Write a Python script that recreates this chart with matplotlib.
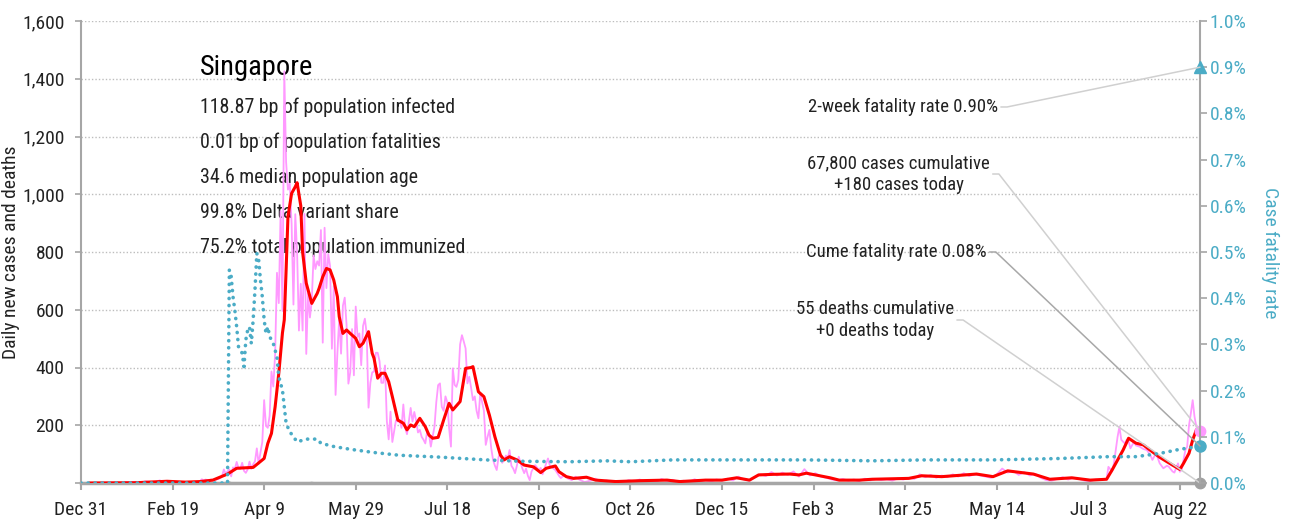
import matplotlib
matplotlib.use('Agg')
import matplotlib.pyplot as plt

plt.rcParams['font.family'] = ['Roboto Condensed', 'Archivo Narrow', 'DejaVu Sans']

PINK = '#ff99ff'
RED = '#ff0000'
TEAL = '#4bacc6'
GREY = '#a6a6a6'
INK = '#222222'

# x axis counts days from Dec 31, 2019
tick_days = [0, 50, 100, 150, 200, 250, 300, 350, 400, 450, 500, 550, 600]
tick_labels = ['Dec 31', 'Feb 19', 'Apr 9', 'May 29', 'Jul 18', 'Sep 6', 'Oct 26',
               'Dec 15', 'Feb 3', 'Mar 25', 'May 14', 'Jul 3', 'Aug 22']
last_day = 611

# daily new cases
case_days = ([1, 10, 20, 23, 24, 28, 30, 33, 35, 38, 40, 43, 45, 47, 49, 52, 55, 58, 60]
             + list(range(61, 246))
             + [246, 248, 250, 251, 252, 254, 255, 256, 258, 259, 261, 262, 264, 266, 268,
                270, 272, 275]
             + list(range(278, 561, 3))
             + [561, 563, 564, 566, 567, 568, 569, 570, 571, 572, 573, 575, 576, 578, 580,
                582, 584, 585, 587, 588, 589, 591, 593, 594, 596, 597, 599, 600, 601, 602,
                603, 604, 605, 606, 607, 608, 609, 611])
case_vals = ([0, 0, 1, 0, 3, 2, 4, 1, 6, 3, 2, 9, 4, 3, 1, 2, 3, 1, 2]
             # Mar 2020
             + [2, 2, 2, 2, 7, 13, 8, 12, 10, 6, 12, 9, 13, 12, 14, 17, 23, 47, 32, 40,
                47, 23, 54, 49, 73, 52, 49, 70, 42, 35, 47]
             # Apr 2020
             + [74, 49, 65, 75, 120, 66, 106, 142, 287, 198, 191, 233, 386, 334, 447,
                728, 623, 942, 596, 1426, 1111, 1016, 1037, 897, 618, 931, 799, 528, 690, 528]
             # May 2020
             + [932, 447, 657, 573, 632, 788, 741, 768, 753, 876, 486, 884, 675, 793, 752,
                465, 682, 305, 451, 570, 448, 614, 642, 548, 344, 383, 533, 373, 611, 506, 518]
             # Jun 2020
             + [408, 544, 569, 517, 261, 347, 383, 386, 451, 451, 422, 347, 347, 407, 214,
                151, 247, 142, 181, 218, 213, 218, 191, 272, 191, 169, 213, 260, 213, 246]
             # Jul - Aug 2020
             + [215, 175, 184, 160, 150, 137, 178, 170, 126, 160, 195, 280, 339, 345, 264,
                250, 300, 280, 190, 126, 397, 340, 333, 357, 480, 512, 490, 466, 345, 368,
                330, 287, 300, 250, 224, 310, 280, 250, 132, 160, 184, 120, 80, 60, 45,
                90, 103, 70, 80, 95, 85, 114, 60, 50, 34, 60, 91, 70, 50, 34, 50, 25, 10]
             + [40, 62, 45, 52, 30, 68, 85, 60, 50, 45, 25, 17, 28, 15, 10, 22, 12, 3]
             # Sep 2020 - Jul 2021
             + [8, 15, 4, 9, 3, 7, 2, 10, 5, 12, 6, 9, 3, 14, 7, 11, 4, 8, 3, 13, 6, 10,
                5, 12, 8, 15, 9, 22, 12, 8, 20, 30, 24, 38, 26, 36, 28, 40, 22, 48, 26, 34,
                22, 18, 12, 9, 14, 8, 12, 6, 15, 9, 14, 10, 13, 8, 16, 12, 18, 14, 30, 20,
                28, 18, 26, 20, 30, 22, 34, 24, 30, 26, 22, 18, 30, 50, 36, 42, 28, 38, 26,
                32, 18, 10, 8, 14, 20, 12, 18, 14, 8, 6, 12, 10, 14]
             # Jul - Sep 2021
             + [56, 40, 68, 160, 195, 150, 143, 137, 150, 145, 120, 143, 130, 126, 118,
                114, 95, 80, 103, 85, 68, 51, 60, 56, 40, 36, 68, 39, 45, 80,
                114, 126, 200, 241, 287, 230, 195, 180])

# 7-day average of new cases
avg_days = [5, 30, 47, 57, 65, 72, 80, 85, 94, 100, 102, 104, 106, 108, 110, 111, 112, 113,
            115, 117, 118, 120, 121, 123, 126, 129, 130, 132, 134, 136, 138, 140, 141, 143,
            145, 147, 150, 152, 154, 157, 159, 160, 162, 164, 166, 168, 170, 173, 176, 178,
            180, 182, 185, 188, 190, 192, 195, 198, 201, 203, 207, 210, 213, 214, 217, 220,
            223, 226, 229, 231, 234, 238, 242, 247, 251, 254, 259, 261, 265, 269, 276, 281,
            292, 305, 320, 327, 341, 350, 358, 365, 370, 378, 387, 392, 396, 401, 409, 414,
            425, 432, 452, 459, 470, 489, 498, 506, 520, 529, 541, 551, 560, 563, 569, 572,
            576, 580, 585, 589, 596, 600, 602, 605, 607, 609, 611]
avg_vals = [0, 1, 6, 3, 5, 10, 31, 51, 54, 85, 137, 172, 264, 380, 520, 565, 738, 922,
            1003, 1026, 1040, 960, 800, 692, 622, 657, 674, 714, 743, 738, 703, 645, 576, 518,
            530, 518, 501, 472, 484, 524, 449, 432, 363, 380, 380, 351, 299, 218, 207, 184,
            201, 195, 224, 195, 166, 155, 158, 218, 276, 253, 282, 397, 400, 403, 316, 299,
            235, 160, 97, 80, 91, 80, 62, 56, 36, 51, 59, 39, 22, 16, 20, 10,
            5, 8, 10, 5, 10, 10, 18, 10, 28, 30, 31, 28, 34, 28, 18, 10,
            10, 13, 16, 25, 22, 31, 22, 42, 31, 13, 18, 10, 13, 45, 114, 155,
            138, 132, 108, 89, 62, 47, 68, 103, 149, 184, 189]

# daily deaths
death_days = [0, 80, 81, 82, 125, 126, 127, 300, 611]
death_vals = [0, 0, 2, 0, 0, 1, 0, 0, 0]

# cumulative case fatality rate, %
cfr_days = [0, 80, 81, 82, 83, 84, 85, 86, 88, 89, 90, 91, 92, 93, 94, 95, 96, 97, 98, 99,
            100, 101, 102, 103, 105, 107, 108, 110, 111, 112, 114, 118, 123, 129, 131, 138,
            147, 160, 174, 196, 221, 240, 267, 287, 300, 323, 360, 396, 432, 461, 498, 534,
            561, 576, 589, 600, 607, 611]
cfr_vals = [0, 0, 0.461, 0.447, 0.403, 0.374, 0.338, 0.295, 0.281, 0.252, 0.31, 0.331,
            0.338, 0.302, 0.353, 0.418, 0.497, 0.483, 0.439, 0.403, 0.353, 0.324, 0.338,
            0.317, 0.302, 0.273, 0.23, 0.201, 0.165, 0.129, 0.111, 0.089, 0.095, 0.095,
            0.086, 0.079, 0.073, 0.066, 0.06, 0.056, 0.05, 0.047, 0.046, 0.048, 0.046,
            0.05, 0.05, 0.05, 0.048, 0.05, 0.05, 0.053, 0.057, 0.057, 0.064, 0.073, 0.077, 0.08]

country = 'Singapore'
stats = ['118.87 bp of population infected',
         '0.01 bp of population fatalities',
         '34.6 median population age',
         '99.8% Delta variant share',
         '75.2% total population immunized']

cum_cases, today_cases = 67800, 180
cum_deaths, today_deaths = 55, 0
cume_cfr, two_week_cfr = 0.08, 0.90

fig, ax = plt.subplots(figsize=(12.9, 5.22), dpi=100)
fig.subplots_adjust(left=81 / 1290, right=1200 / 1290, top=1 - 21 / 522, bottom=1 - 483 / 522)
ax2 = ax.twinx()

ax.plot(case_days, case_vals, color=PINK, lw=1.3, zorder=2)
ax.plot(avg_days, avg_vals, color=RED, lw=2.2, zorder=3)
ax.plot(death_days, death_vals, color=GREY, lw=1.5, zorder=2)
ax2.plot(cfr_days, cfr_vals, color=TEAL, lw=2.6, linestyle=(0, (0.05, 1.9)),
         dash_capstyle='round')

# end-of-series markers
ax.plot(last_day, today_cases, 'o', color=PINK, ms=7.5, clip_on=False, zorder=6)
ax.plot(last_day, today_deaths, 'o', color='#a0a0a0', ms=7.5, clip_on=False, zorder=6)
ax2.plot(last_day, cume_cfr, 'o', color=TEAL, ms=8, clip_on=False, zorder=6)
ax2.plot(last_day, two_week_cfr, '^', color=TEAL, ms=8, clip_on=False, zorder=6)

ax.set_xlim(0, last_day)
ax.set_ylim(0, 1600)
ax2.set_ylim(0, 1.0)

ax.set_xticks(tick_days)
ax.set_xticklabels(tick_labels)
left_ticks = list(range(0, 1601, 200))
ax.set_yticks(left_ticks)
ax.set_yticklabels(['' if v == 0 else f'{v:,}' for v in left_ticks])
right_ticks = [i / 10 for i in range(11)]
ax2.set_yticks(right_ticks)
ax2.set_yticklabels([f'{v:.1f}%' for v in right_ticks])

for name in ['top', 'right']:
    ax.spines[name].set_visible(False)
for name in ['top', 'left', 'bottom']:
    ax2.spines[name].set_visible(False)
ax.spines['left'].set_color(GREY)
ax.spines['left'].set_linewidth(1.5)
ax.spines['bottom'].set_color(GREY)
ax.spines['bottom'].set_linewidth(2.5)
ax2.spines['right'].set_color(GREY)
ax2.spines['right'].set_linewidth(1.5)

ax.tick_params(axis='x', length=5, width=1.5, color=GREY, pad=8,
               labelsize=14, labelcolor=INK)
ax.tick_params(axis='y', length=4, width=1.2, color=GREY, pad=8,
               labelsize=14, labelcolor=INK)
ax2.tick_params(axis='y', length=5, width=1.2, color=GREY, pad=2,
                labelsize=14, labelcolor=TEAL)

ax.grid(axis='y', color='#bdbdbd', linestyle=(0, (1, 1.5)), lw=1)
ax.set_axisbelow(True)

ax.set_ylabel('Daily new cases and deaths', fontsize=14, color=INK, ha='center', va='center')
ax.yaxis.set_label_coords(-0.0625, 0.5)
ax2.set_ylabel('Case fatality rate', fontsize=14, color=TEAL, rotation=270,
               ha='center', va='center')
ax2.yaxis.set_label_coords(1.0626, 0.498)

# country summary block
ax.text(0.1063, 0.9004, country, transform=ax.transAxes, fontsize=20.5, color='black',
        va='center', ha='left', zorder=1)
for i, line in enumerate(stats):
    ax.text(0.1063, 0.8139 - i * 0.0758, line, transform=ax.transAxes, fontsize=14.3,
            color=INK, va='center', ha='left', zorder=1)


def callout(axis, text, xy, pos, line_color):
    axis.annotate(text, xy=xy, xycoords='data', xytext=pos, textcoords='axes fraction',
                  ha='center', va='center', multialignment='center', fontsize=13.5,
                  color=INK, linespacing=1.25, zorder=7,
                  arrowprops=dict(arrowstyle='-', color=line_color, lw=1.1,
                                  relpos=(1, 0.5), shrinkA=0, shrinkB=0,
                                  connectionstyle='arc,angleA=0,armA=9,angleB=0,armB=0,rad=0'))


callout(ax2, f'2-week fatality rate {two_week_cfr:.2f}%', (last_day, two_week_cfr),
        (0.7346, 0.8139), '#d0d0d0')
callout(ax, f'{cum_cases:,} cases cumulative\n+{today_cases} cases today',
        (last_day, today_cases), (0.7306, 0.6688), '#d0d0d0')
callout(ax2, f'Cume fatality rate {cume_cfr:.2f}%', (last_day, cume_cfr),
        (0.7288, 0.5), '#a8a8a8')
callout(ax, f'{cum_deaths} deaths cumulative\n+{today_deaths} deaths today',
        (last_day, today_deaths), (0.7096, 0.3528), '#d0d0d0')

fig.savefig('out.png', dpi=100)
